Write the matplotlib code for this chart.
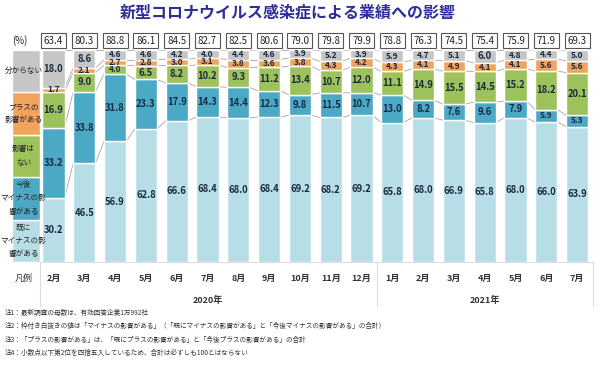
import matplotlib
matplotlib.use('Agg')
import matplotlib.pyplot as plt
import matplotlib.transforms as mtransforms
import numpy as np

plt.rcParams['font.family'] = ['Noto Sans CJK JP', 'DejaVu Sans']

# data (%), Feb 2020 .. Jul 2021
months = ['2月', '3月', '4月', '5月', '6月', '7月', '8月', '9月', '10月', '11月', '12月',
          '1月', '2月', '3月', '4月', '5月', '6月', '7月']
already_neg = [30.2, 46.5, 56.9, 62.8, 66.6, 68.4, 68.0, 68.4, 69.2, 68.2, 69.2,
               65.8, 68.0, 66.9, 65.8, 68.0, 66.0, 63.9]
future_neg = [33.2, 33.8, 31.8, 23.3, 17.9, 14.3, 14.4, 12.3, 9.8, 11.5, 10.7,
              13.0, 8.2, 7.6, 9.6, 7.9, 5.9, 5.3]
no_effect = [16.9, 9.0, 4.0, 6.5, 8.2, 10.2, 9.3, 11.2, 13.4, 10.7, 12.0,
             11.1, 14.9, 15.5, 14.5, 15.2, 18.2, 20.1]
positive = [1.7, 2.1, 2.7, 2.8, 3.0, 3.1, 3.8, 3.6, 3.8, 4.3, 4.2,
            4.3, 4.1, 4.9, 4.1, 4.1, 5.6, 5.6]
unknown = [18.0, 8.6, 4.6, 4.6, 4.2, 4.0, 4.4, 4.6, 3.9, 5.2, 3.9,
           5.9, 4.7, 5.1, 6.0, 4.8, 4.4, 5.0]
neg_total = [63.4, 80.3, 88.8, 86.1, 84.5, 82.7, 82.5, 80.6, 79.0, 79.8, 79.9,
             78.8, 76.3, 74.5, 75.4, 75.9, 71.9, 69.3]

series = [already_neg, future_neg, no_effect, positive, unknown]
colors = ['#B7DDE7', '#4BA9C6', '#9DC25B', '#F2A35E', '#C6C6C6']
legend_labels = ['既に\nマイナスの影\n響がある', '今後\nマイナスの影\n響がある',
                 '影響は\nない', 'プラスの\n影響がある', '分からない']

title = '新型コロナウイルス感染症による業績への影響'
notes = [
    '注1：最新調査の母数は、有効回答企業1万992社',
    '注2：枠付き白抜きの値は「マイナスの影響がある」（「既にマイナスの影響がある」と「今後マイナスの影響がある」の合計）',
    '注3：「プラスの影響がある」は、「既にプラスの影響がある」と「今後プラスの影響がある」の合計',
    '注4：小数点以下第2位を四捨五入しているため、合計は必ずしも100とはならない',
]

W, H = 600, 365
fig = plt.figure(figsize=(6, 3.65), dpi=100)
fig.patch.set_facecolor('white')

def fy(py):
    return 1 - py / H

# axes spanning full width; bar area between y px 50 and 262
x0, pitch = 53.5, 30.8
ax = fig.add_axes([0, fy(262), 1, (262 - 50) / H])
ax.set_xlim(-x0 / pitch, (W - x0) / pitch)
ax.set_ylim(0, 100)
ax.axis('off')

x = np.arange(len(months))
bw = 0.72
bottom = np.zeros(len(months))
cums = []
for vals, c in zip(series, colors):
    vals = np.array(vals)
    ax.bar(x, vals, bw, bottom=bottom, color=c, edgecolor='white', linewidth=1.0, zorder=2)
    for xi, b, v in zip(x, bottom, vals):
        fs = 6.8 if v >= 6 else 6.0
        ax.text(xi, b + v / 2, f'{v:.1f}', ha='center', va='center', fontsize=fs,
                fontweight='bold', color='#1B2A44', zorder=4)
    bottom = bottom + vals
    cums.append(bottom.copy())

# series lines between bars
for cum in cums:
    for i in range(len(x) - 1):
        ax.plot([x[i] + bw / 2, x[i + 1] - bw / 2], [cum[i], cum[i + 1]],
                color='#A5A5A5', lw=0.6, zorder=1)

# legend column
lx = (26 - x0) / pitch
lb = 0
for lab, c in zip(legend_labels, colors):
    ax.bar(lx, 20, 0.9, bottom=lb, color=c, edgecolor='white', linewidth=1.0, zorder=2)
    ax.text((23.5 - x0) / pitch, lb + 10, lab, ha='center', va='center', fontsize=5.5,
            color='#222222', linespacing=1.85, zorder=4)
    lb += 20

trans = mtransforms.blended_transform_factory(ax.transData, fig.transFigure)

# totals boxes
for xi, t in zip(x, neg_total):
    ax.text(xi, fy(40.5), f'{t:.1f}', transform=trans, ha='center', va='center',
            fontsize=7, color='#222222', zorder=5,
            bbox=dict(boxstyle='square,pad=0.3', fc='white', ec='#555555', lw=0.8))
fig.text(20 / W, fy(40.5), '(%)', ha='center', va='center', fontsize=7, color='#222222')

# bottom table
for xi, m in zip(x, months):
    ax.text(xi, fy(278), m, transform=trans, ha='center', va='center',
            fontsize=6.5, fontweight='bold', color='#333333')
fig.text(24 / W, fy(278), '凡例', ha='center', va='center', fontsize=6.5, color='#333333')
ax.text(5, fy(300), '2020年', transform=trans, ha='center', va='center',
        fontsize=6.5, fontweight='bold', color='#333333')
ax.text(14, fy(300), '2021年', transform=trans, ha='center', va='center',
        fontsize=6.5, fontweight='bold', color='#333333')
for xv in [(40 - x0) / pitch, 10.5, 17.5]:
    ax.plot([xv, xv], [fy(262), fy(306)], transform=trans, color='#DDDDDD', lw=0.8,
            clip_on=False)
ax.plot([(40 - x0) / pitch, 17.5], [fy(262), fy(262)], transform=trans,
        color='#DDDDDD', lw=0.8, clip_on=False)

# title
fig.text(288 / W, fy(13), title, ha='center', va='center', fontsize=11.5,
         fontweight='bold', color='#2E2E9A')

# notes
for k, note in enumerate(notes):
    fig.text(5 / W, fy(313 + 13.3 * k), note, ha='left', va='center', fontsize=4.8,
             color='#333333')

fig.savefig('out.png', dpi=100)
